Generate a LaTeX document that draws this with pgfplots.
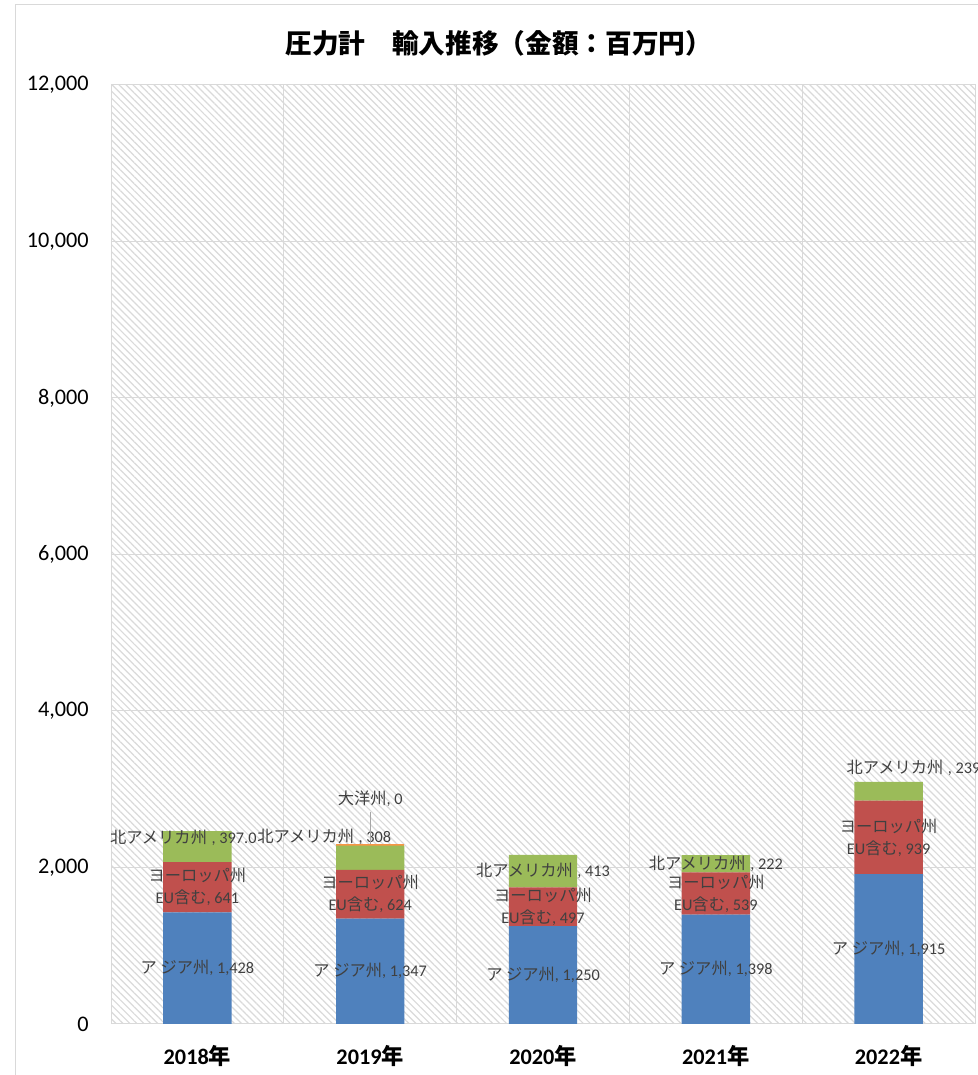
\documentclass[border=0pt]{standalone}
\usepackage{fontspec}
\setmainfont{Carlito}
\newfontfamily\jp{Noto Sans CJK JP}
\usepackage{pgfplots}
\pgfplotsset{compat=1.18}
\usetikzlibrary{patterns.meta}
\definecolor{asia}{HTML}{4F81BD}
\definecolor{europe}{HTML}{C0504D}
\definecolor{namerica}{HTML}{9BBB59}
\definecolor{oceania}{HTML}{F79646}
\definecolor{gridgray}{HTML}{D9D9D9}
\definecolor{hatch}{HTML}{DADADA}
\definecolor{labtext}{HTML}{404040}
\definecolor{leader}{HTML}{A6A6A6}
\tikzset{lab/.style={font=\fontsize{12.2}{16.5}\selectfont, text=labtext, inner sep=0pt, align=center}}
\newcommand{\na}{{\jp 北アメリカ州}\hspace{3.5pt},}
\begin{document}
\begin{tikzpicture}
\useasboundingbox (0pt,0pt) rectangle (733.5pt,806.25pt);
\fill[white] (0pt,0pt) rectangle (733.5pt,806.25pt);
\draw[gridgray, line width=0.75pt] (11.25pt,0pt) -- (11.25pt,802.5pt) -- (733.5pt,802.5pt);
\node[font=\jp\bfseries\fontsize{20}{22}\selectfont, text=black] at (374pt,774pt) {圧力計　輸入推移（金額：百万円）};
\begin{axis}[
  at={(83.25pt,38.25pt)}, anchor=south west,
  scale only axis, width=648pt, height=704.25pt,
  ybar stacked, bar width=51.3pt,
  xmin=-0.5, xmax=4.5, ymin=0, ymax=12000,
  xtick={0,1,2,3,4},
  xticklabels={{\bfseries 2018{\jp 年}},{\bfseries 2019{\jp 年}},{\bfseries 2020{\jp 年}},{\bfseries 2021{\jp 年}},{\bfseries 2022{\jp 年}}},
  minor xtick={0.5,1.5,2.5,3.5},
  ytick={0,2000,4000,6000,8000,10000,12000},
  scaled y ticks=false,
  xminorgrids, ymajorgrids,
  major grid style={draw=gridgray, line width=0.75pt},
  minor grid style={draw=gridgray, line width=0.75pt},
  major tick length=0pt, minor tick length=0pt,
  tick style={draw=none},
  axis line style={draw=gridgray, line width=0.75pt},
  axis background/.style={pattern={Lines[angle=-45,distance=3.7pt,line width=0.9pt]}, pattern color=hatch},
  /pgf/number format/.cd, 1000 sep={,}, assume math mode=true,
  /pgfplots/.cd,
  yticklabel style={font=\fontsize{16.7}{18}\selectfont, text=black, anchor=east, inner sep=0pt, xshift=-16.5pt},
  xticklabel style={font=\fontsize{16.7}{18}\selectfont, text=black, anchor=center, inner sep=0pt, yshift=-24pt},
  clip=false,
]
\addplot[fill=asia, draw=none] coordinates {(0,1428) (1,1347) (2,1250) (3,1398) (4,1915)};
\addplot[fill=europe, draw=none] coordinates {(0,641) (1,624) (2,497) (3,539) (4,939)};
\addplot[fill=namerica, draw=none] coordinates {(0,397) (1,308) (2,413) (3,222) (4,239)};
\addplot[fill=oceania, draw=none] coordinates {(0,0) (1,18) (2,0) (3,0) (4,0)};
\coordinate (A0) at (axis cs:0,714);
\coordinate (A1) at (axis cs:1,673.5);
\coordinate (A2) at (axis cs:2,625);
\coordinate (A3) at (axis cs:3,699);
\coordinate (A4) at (axis cs:4,957.5);
\coordinate (E0) at (axis cs:0,1748.5);
\coordinate (E1) at (axis cs:1,1659);
\coordinate (E2) at (axis cs:2,1498.5);
\coordinate (E3) at (axis cs:3,1662);
\coordinate (E4) at (axis cs:4,2384.5);
\coordinate (N0) at (axis cs:-0.506,2377);
\coordinate (N1) at (axis cs:0.345,2390);
\coordinate (N2) at (axis cs:2,1953.5);
\coordinate (N3) at (axis cs:3,2048);
\coordinate (N4) at (axis cs:3.755,3272);
\coordinate (O1) at (axis cs:1,2875);
\coordinate (L1a) at (axis cs:1,2709);
\coordinate (L1b) at (axis cs:1,2297);
\end{axis}
% Asia labels
\node[lab] at (A0) {{\jp ア ジア州}, 1,428};
\node[lab] at (A1) {{\jp ア ジア州}, 1,347};
\node[lab] at (A2) {{\jp ア ジア州}, 1,250};
\node[lab] at (A3) {{\jp ア ジア州}, 1,398};
\node[lab] at (A4) {{\jp ア ジア州}, 1,915};
% Europe labels
\node[lab] at (E0) {{\jp ヨーロッパ州}\\EU{\jp 含む}, 641};
\node[lab] at (E1) {{\jp ヨーロッパ州}\\EU{\jp 含む}, 624};
\node[lab] at (E2) {{\jp ヨーロッパ州}\\EU{\jp 含む}, 497};
\node[lab] at (E3) {{\jp ヨーロッパ州}\\EU{\jp 含む}, 539};
\node[lab] at (E4) {{\jp ヨーロッパ州}\\EU{\jp 含む}, 939};
% North America labels
\node[lab, anchor=west] at (N0) {\na{} 397.0};
\node[lab, anchor=west] at (N1) {\na{} 308};
\node[lab] at (N2) {\na{} 413};
\node[lab] at (N3) {\na{} 222};
\node[lab, anchor=west] at (N4) {\na{} 239};
% Oceania label
\draw[leader, line width=0.75pt] (L1a) -- (L1b);
\node[lab] at (O1) {{\jp 大洋州}, 0};
\end{tikzpicture}
\end{document}
